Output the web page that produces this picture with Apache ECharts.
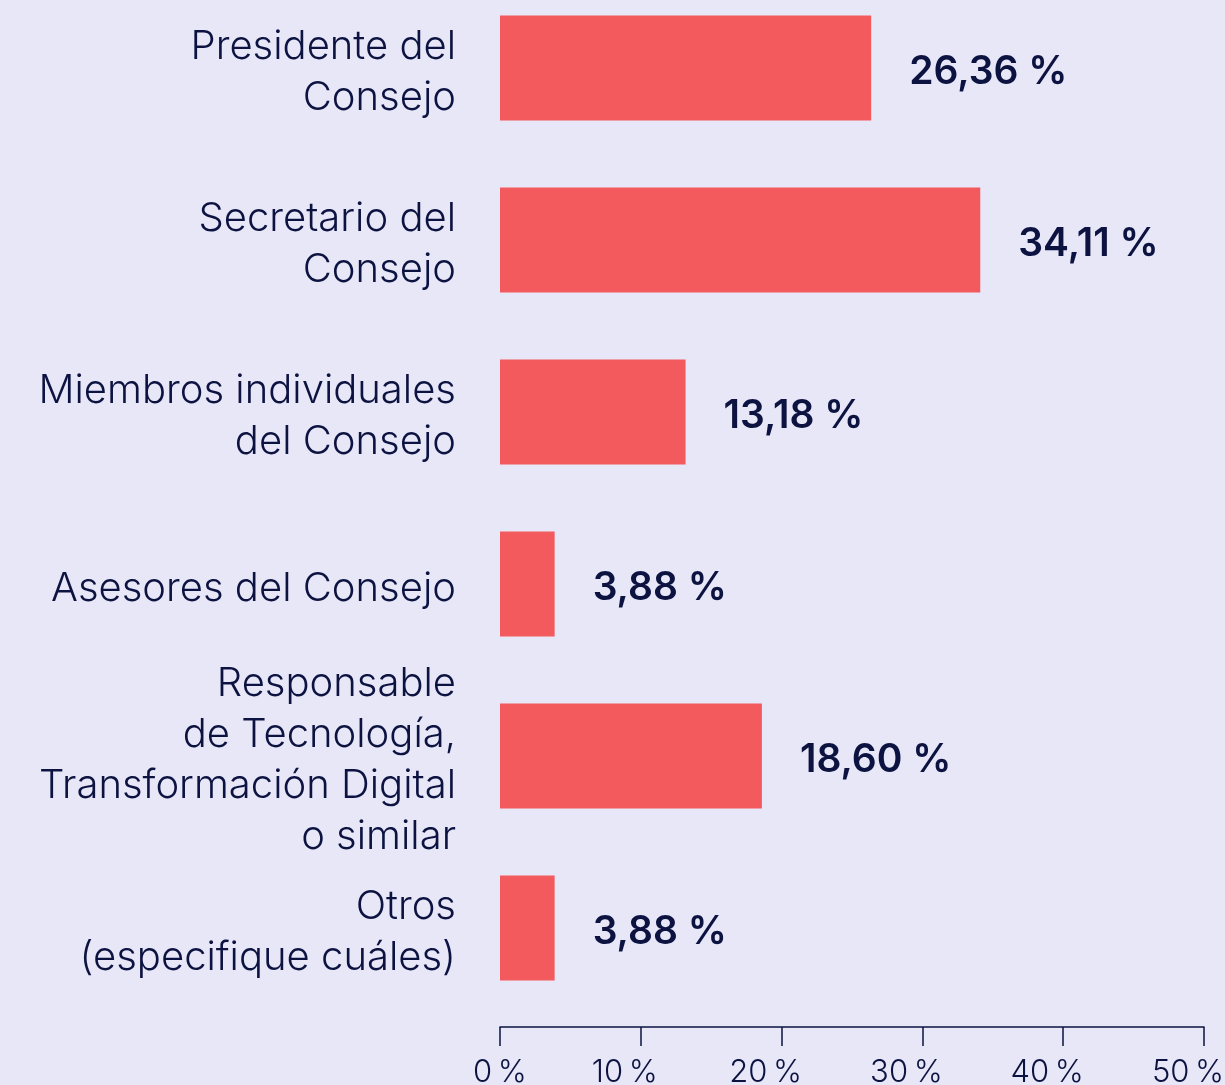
<!DOCTYPE html>
<html>
<head>
<meta charset="utf-8">
<script src="https://cdn.jsdelivr.net/npm/echarts@6/dist/echarts.min.js"></script>
<style>
  html, body { margin: 0; padding: 0; background: #e7e7f8; }
  #chart { width: 1225px; height: 1085px; }
</style>
</head>
<body>
<div id="chart"></div>
<script>
// datos
const categorias = [
  'Presidente del\nConsejo',
  'Secretario del\nConsejo',
  'Miembros individuales\ndel Consejo',
  'Asesores del Consejo',
  'Responsable\nde Tecnología,\nTransformación Digital\no similar',
  'Otros\n(especifique cuáles)'
];
const valores = [26.36, 34.11, 13.18, 3.88, 18.60, 3.88];
const ticksX = [0, 10, 20, 30, 40, 50];

const texto = '#0d1340';
let chart = echarts.init(document.getElementById('chart'));
chart.setOption({
  backgroundColor: '#e7e7f8',
  animation: false,
  grid: { left: 500, right: 21, top: -18, bottom: 71, outerBoundsMode: 'none', containLabel: false },
  xAxis: {
    type: 'value',
    min: ticksX[0],
    max: ticksX[ticksX.length - 1],
    interval: 10,
    offset: 13,
    splitLine: { show: false },
    axisLine: { show: true, lineStyle: { color: texto, width: 1.5 } },
    axisTick: { show: true, length: 19, lineStyle: { color: texto, width: 1.5 } },
    axisLabel: {
      color: texto,
      margin: 30,
      formatter: function (v) {
        return v === 0 ? '{a|0\u2009%}' : '{b|' + v + '\u2009%}';
      },
      rich: {
        a: { fontFamily: 'Inter', fontSize: 31, fontWeight: 300, color: texto },
        b: { fontFamily: 'Inter', fontSize: 31, fontWeight: 300, color: texto, padding: [0, 32, 0, 0] }
      }
    }
  },
  yAxis: {
    type: 'category',
    inverse: true,
    data: categorias,
    axisLine: { show: false },
    axisTick: { show: false },
    axisLabel: {
      align: 'right',
      margin: 44,
      // linea vacia arriba para bajar un poco el bloque de texto
      formatter: function (v) {
        return '{s| }\n' + v.split('\n').map(function (l) { return '{c|' + l + '}'; }).join('\n');
      },
      rich: {
        s: { fontSize: 1, lineHeight: 9 },
        c: { fontFamily: 'Inter', fontSize: 40, fontWeight: 300, lineHeight: 51, color: texto, align: 'right' }
      }
    }
  },
  series: [{
    type: 'bar',
    data: valores,
    barWidth: 105,
    itemStyle: { color: '#f35a5d' },
    label: {
      show: true,
      position: 'right',
      distance: 38,
      offset: [0, 4],
      color: texto,
      fontFamily: 'Inter',
      fontWeight: 600,
      fontSize: 39,
      formatter: function (p) {
        return p.value.toFixed(2).replace('.', ',') + ' %';
      }
    }
  }]
});
</script>
</body>
</html>
